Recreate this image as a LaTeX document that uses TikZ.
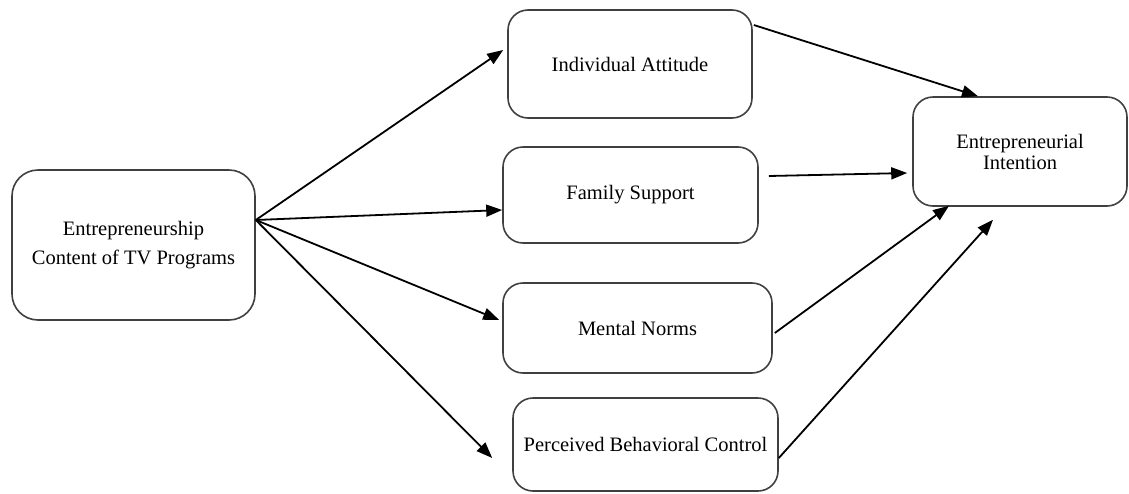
\documentclass[tikz,border=0pt]{standalone}
\usepackage{fontspec}
\setmainfont{Liberation Serif}
\usetikzlibrary{arrows.meta}
\begin{document}
\begin{tikzpicture}[x=1pt,y=-1pt,
  box/.style={draw=black!75, line width=1.6pt, rounded corners=20pt, align=center,
    font=\fontsize{20.5}{21}\selectfont, inner sep=0pt},
  conn/.style={line width=1.8pt, -{Triangle[length=16pt,width=12pt]}}]
\useasboundingbox (0,0) rectangle (1129,493);
\node[box, minimum width=243pt, minimum height=150pt, rounded corners=26pt,
  font=\fontsize{20.5}{29}\selectfont] (ect) at (133.5,245) {Entrepreneurship\\Content of TV Programs};
\node[box, minimum width=244pt, minimum height=108pt] (ia) at (630,64) {Individual Attitude};
\node[box, minimum width=255pt, minimum height=96pt] (fs) at (630.5,195) {Family Support};
\node[box, minimum width=269pt, minimum height=90pt] (mn) at (637.5,328) {Mental Norms};
\node[box, minimum width=265pt, minimum height=93pt] (pbc) at (645.5,444.5) {Perceived Behavioral Control};
\node[box, minimum width=214pt, minimum height=109pt] (ei) at (1020,151.5) {Entrepreneurial\\Intention};
\draw[conn] ([yshift=25pt]ect.east) -- ([xshift=-4pt,yshift=14pt]ia.west);
\draw[conn] ([yshift=25pt]ect.east) -- ([yshift=-15pt]fs.west);
\draw[conn] ([yshift=25pt]ect.east) -- ([xshift=-3pt,yshift=8pt]mn.west);
\draw[conn] ([yshift=25pt]ect.east) -- ([xshift=-20pt,yshift=-13.5pt]pbc.west);
\draw[conn] ([xshift=1pt,yshift=39pt]ia.east) -- ([xshift=-42pt]ei.north);
\draw[conn] ([xshift=10pt,yshift=19pt]fs.east) -- ([xshift=-5pt,yshift=-21.5pt]ei.west);
\draw[conn] ([xshift=2pt,yshift=-5pt]mn.east) -- ([xshift=-71pt,yshift=1pt]ei.south);
\draw[conn] ([yshift=-13.5pt]pbc.east) -- ([xshift=-27pt,yshift=-13pt]ei.south);
\end{tikzpicture}
\end{document}
